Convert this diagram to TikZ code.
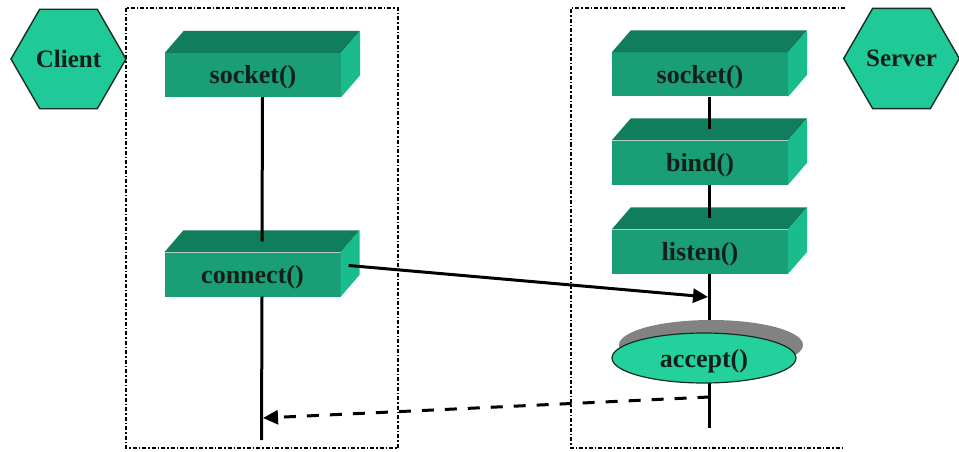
\documentclass[tikz,border=0pt]{standalone}
\usepackage{fontspec}
\setmainfont{Liberation Serif}
\usetikzlibrary{shapes.geometric,arrows.meta,calc}

\definecolor{boxfront}{RGB}{26,158,118}
\definecolor{boxtop}{RGB}{16,126,92}
\definecolor{boxside}{RGB}{26,188,142}
\definecolor{hexfill}{RGB}{32,202,152}
\definecolor{ovalfill}{RGB}{36,208,156}
\definecolor{edgedark}{RGB}{20,45,35}
\definecolor{shadowgray}{RGB}{130,130,130}
\definecolor{labeltext}{RGB}{18,30,24}

\tikzset{
  callbox/.style={fill=boxfront, minimum width=176pt, minimum height=44pt,
    inner sep=0pt, text height=18pt, text depth=0pt, text=labeltext,
    font=\fontsize{26}{26}\selectfont\bfseries},
  hexnode/.style={regular polygon, regular polygon sides=6, minimum size=115pt,
    inner sep=0pt, fill=hexfill, draw=edgedark, line width=1.4pt,
    text=labeltext, font=\fontsize{25}{25}\selectfont\bfseries},
  ovalnode/.style={ellipse, minimum width=184pt, minimum height=50pt, inner sep=0pt,
    text height=18pt, text depth=0pt,
    fill=ovalfill, draw=edgedark, line width=1.2pt,
    text=labeltext, font=\fontsize{26}{26}\selectfont\bfseries},
  frame/.style={draw=black, line width=1.4pt, dash pattern=on 4pt off 2pt on 1.5pt off 2pt},
  lifeline/.style={draw=black, line width=3pt},
  msg/.style={draw=black, line width=3pt, -{Triangle[length=15pt,width=14pt]}},
  reply/.style={msg, dash pattern=on 12pt off 11pt},
}

\begin{document}
\begin{tikzpicture}[x=1pt,y=-1pt]
\useasboundingbox (0,0) rectangle (959,452);

% process frames
\draw[frame] (126,8) rectangle (398,448);
\draw[frame] (845,8) -- (571,8) -- (571,448) -- (843,448);

% process labels
\node[hexnode] (client) at (68.5,59) {Client};
\node[hexnode] (server) at (901.5,58.5) {Server};

% calls, drawn as raised blocks
\node[callbox] (csock) at (253,75) {socket()};
\node[callbox] (conn) at (252.5,274.5) {connect()};
\node[callbox] (ssock) at (700,74.5) {socket()};
\node[callbox] (sbind) at (700,162.5) {bind()};
\node[callbox] (slisten) at (700,251.5) {listen()};

\foreach \n in {csock,conn,ssock,sbind,slisten}{
  \fill[boxtop] (\n.north west) -- ++(19,-22) -- ($(\n.north east)+(19,-22)$)
    -- (\n.north east) -- cycle;
  \fill[boxside] (\n.north east) -- ++(19,-22) -- ($(\n.south east)+(19,-22)$)
    -- (\n.south east) -- cycle;
}

% lifelines
\coordinate (cend) at (261.5,440);
\coordinate (send) at (709.5,428);
\draw[lifeline] ($(csock.south)+(9.5,0)$) -- ($(conn.north)+(9.5,-11)$);
\draw[lifeline] ($(conn.south)+(9.5,0)$) -- (cend);
\draw[lifeline] ($(ssock.south)+(9.5,0)$) -- ($(sbind.north)+(9.5,-11)$);
\draw[lifeline] ($(sbind.south)+(9.5,0)$) -- ($(slisten.north)+(9.5,-11)$);
\draw[lifeline] ($(slisten.south)+(9.5,0)$) -- (send);

% messages
\coordinate (connout) at ($(conn.east)+(8,-9)$);
\coordinate (connin) at (708,297);
\draw[msg] (connout) -- (connin);
\coordinate (replyout) at (709.5,397);
\coordinate (replyin) at (263,418);
\draw[reply] (replyout) -- (replyin);

% accept call with its shadow
\coordinate (acc) at (704,358);
\fill[shadowgray] ($(acc)+(7,-13)$) ellipse (92 and 25);
\node[ovalnode] (accept) at (acc) {accept()};
\end{tikzpicture}
\end{document}
